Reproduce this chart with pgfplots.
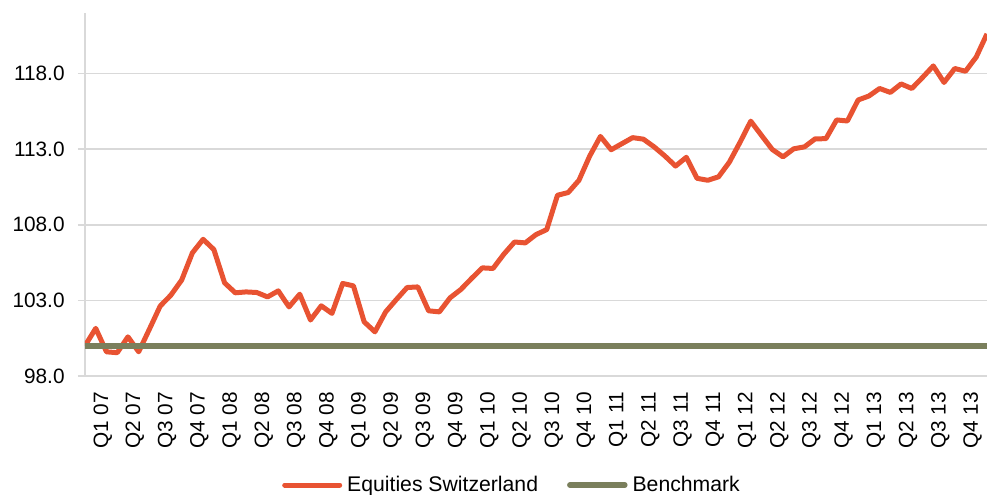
\documentclass[border=0pt]{standalone}
\usepackage{pgfplots}
\pgfplotsset{compat=1.18}
\usepackage{pgfplotstable}
\usepackage{fontspec}
\setmainfont{Liberation Sans}
\definecolor{eqorange}{RGB}{232,83,50}
\definecolor{benchol}{RGB}{122,127,92}
\definecolor{gridgray}{RGB}{217,217,217}
\pgfplotstableread{
i v
0 100.00
1 101.15
2 99.60
3 99.54
4 100.59
5 99.60
6 101.10
7 102.62
8 103.35
9 104.34
10 106.14
11 107.04
12 106.36
13 104.16
14 103.50
15 103.56
16 103.52
17 103.23
18 103.63
19 102.57
20 103.41
21 101.70
22 102.64
23 102.14
24 104.12
25 103.96
26 101.58
27 100.92
28 102.24
29 103.06
30 103.85
31 103.89
32 102.31
33 102.24
34 103.17
35 103.72
36 104.45
37 105.15
38 105.11
39 106.05
40 106.86
41 106.80
42 107.35
43 107.68
44 109.95
45 110.13
46 110.94
47 112.54
48 113.84
49 112.96
50 113.36
51 113.76
52 113.66
53 113.15
54 112.55
55 111.88
56 112.46
57 111.07
58 110.94
59 111.17
60 112.13
61 113.45
62 114.85
63 113.91
64 112.98
65 112.49
66 113.02
67 113.15
68 113.68
69 113.69
70 114.93
71 114.86
72 116.25
73 116.51
74 117.01
75 116.75
76 117.31
77 117.01
78 117.74
79 118.50
80 117.41
81 118.33
82 118.15
83 119.09
84 120.62
}\eqdata
\pgfplotstableread{
i v
0 100
84 100
}\benchdata
\begin{document}
\begin{tikzpicture}
\begin{axis}[
  scale only axis,
  width=451pt, height=181.5pt,
  xmin=0, xmax=84, ymin=98, ymax=122,
  axis lines*=left,
  axis line style={draw=gridgray, line width=0.75pt, -},
  ymajorgrids,
  grid style={draw=gridgray, line width=0.75pt},
  ytick={98,103,108,113,118},
  yticklabel={\pgfmathprintnumber[fixed,fixed zerofill,precision=1]{\tick}},
  /pgf/number format/assume math mode=true,
  tick align=outside,
  major tick length=3.5pt,
  ytick style={draw=gridgray, line width=0.75pt},
  xtick style={draw=none},
  xtick={1.65,4.65,...,82.65},
  xticklabels={Q1 07,Q2 07,Q3 07,Q4 07,Q1 08,Q2 08,Q3 08,Q4 08,Q1 09,Q2 09,Q3 09,Q4 09,Q1 10,Q2 10,Q3 10,Q4 10,Q1 11,Q2 11,Q3 11,Q4 11,Q1 12,Q2 12,Q3 12,Q4 12,Q1 13,Q2 13,Q3 13,Q4 13},
  ticklabel style={font=\fontsize{10.4}{12}\selectfont, inner sep=0pt},
  yticklabel style={anchor=east, xshift=-6.5pt},
  xticklabel style={yshift=-4.35pt, rotate=90, anchor=east},
  legend columns=2,
  legend style={draw=none, fill=none, at={(0.4723,-0.3003)}, anchor=center,
    font=\fontsize{10.6}{12}\selectfont,
    nodes={inner sep=0pt},
    /tikz/every odd column/.append style={column sep=2.5pt},
    /tikz/every even column/.append style={column sep=14.5pt}},
  legend image code/.code={\draw[#1, line cap=round] (0pt,0pt) -- (27.5pt,0pt);},
]
\addplot[color=eqorange, line width=2.5pt, line join=round] table[x=i,y=v]{\eqdata};
\addlegendentry{Equities Switzerland}
\addplot[color=benchol, line width=2.75pt] table[x=i,y=v]{\benchdata};
\addlegendentry{Benchmark}
\end{axis}
\pgfresetboundingbox
\useasboundingbox (-42.5pt,-59pt) rectangle (451pt,188pt);
\end{tikzpicture}
\end{document}
